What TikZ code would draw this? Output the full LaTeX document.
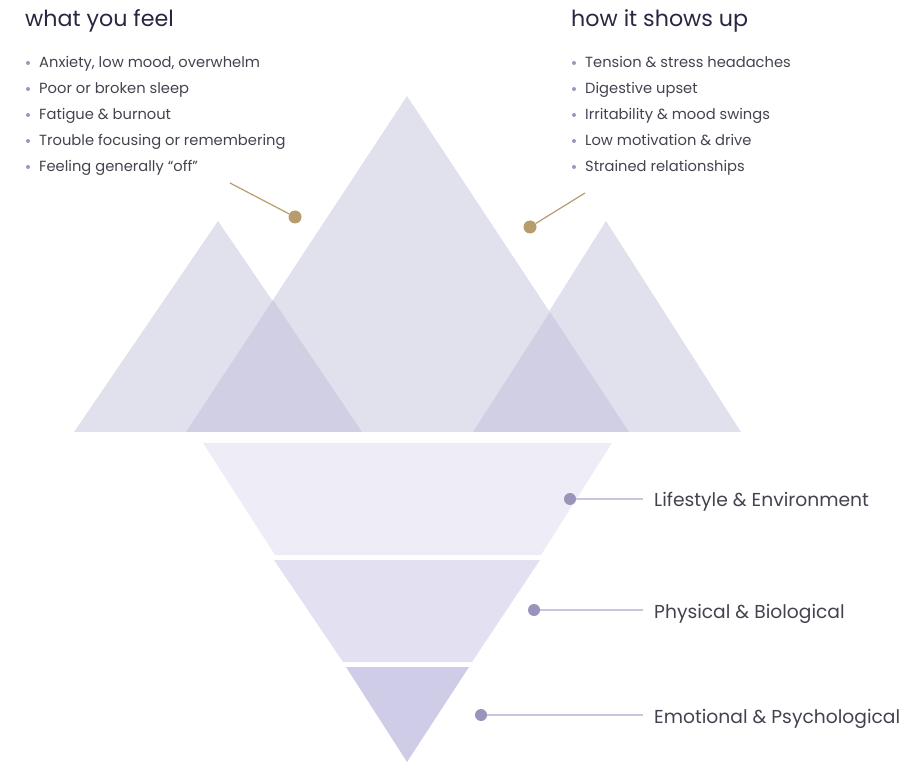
\documentclass[tikz,border=0pt]{standalone}
\usepackage{fontspec}
\setmainfont{Poppins}
\definecolor{mtn}{HTML}{E1E1EE}
\definecolor{mtndark}{HTML}{D1CFE3}
\definecolor{bandA}{HTML}{EEEDF7}
\definecolor{bandB}{HTML}{E2E0F1}
\definecolor{bandC}{HTML}{CFCCE7}
\definecolor{headc}{HTML}{2A2540}
\definecolor{textc}{HTML}{45424F}
\definecolor{bulc}{HTML}{9D95BC}
\definecolor{goldc}{HTML}{B89C6E}
\definecolor{purdot}{HTML}{9A93BA}
\definecolor{purline}{HTML}{C9C5E0}
\begin{document}
\begin{tikzpicture}[x=1pt,y=-1pt,
  heading/.style={anchor=base west,inner sep=0pt,text=headc,font=\fontsize{22.2}{26}\selectfont},
  item/.style={anchor=base west,inner sep=0pt,text=textc,font=\fontsize{14.7}{18}\selectfont},
  bul/.style={circle,fill=bulc,inner sep=0pt,minimum size=4pt},
  label/.style={anchor=base west,inner sep=0pt,text=textc,font=\fontsize{18.7}{22}\selectfont},
  gdot/.style={circle,fill=goldc,inner sep=0pt,minimum size=13pt},
  pdot/.style={circle,fill=purdot,inner sep=0pt,minimum size=12pt},
  gline/.style={draw=goldc,line width=1.2pt},
  pline/.style={draw=purline,line width=1.2pt}]
\useasboundingbox (0,0) rectangle (900,775);
% mountains
\fill[mtn] (74,432) -- (218,221) -- (362,432) -- cycle;
\fill[mtn] (473,432) -- (606,221) -- (741,432) -- cycle;
\fill[mtn] (186,432) -- (407,96) -- (629,432) -- cycle;
\fill[mtndark] (186,432) -- (273,300) -- (362,432) -- cycle;
\fill[mtndark] (473,432) -- (550,312) -- (629,432) -- cycle;
% inverted pyramid
\fill[bandA] (203,443) -- (612,443) -- (541,555) -- (275,555) -- cycle;
\fill[bandB] (274,560) -- (540,560) -- (472,662) -- (343,662) -- cycle;
\fill[bandC] (346,667) -- (469,667) -- (407,762) -- cycle;
% headings
\node[heading] (h1) at (25,27) {what you feel};
\node[heading] (h2) at (571,27) {how it shows up};
% left list
\foreach \t [count=\i] in {{Anxiety, low mood, overwhelm},{Poor or broken sleep},{Fatigue \& burnout},{Trouble focusing or remembering},{Feeling generally “off”}}{
  \node[item] (l\i) at (39,{68+26*(\i-1)}) {\t};
  \node[bul] (lb\i) at (28,{63+26*(\i-1)}) {};
}
% right list
\foreach \t [count=\i] in {{Tension \& stress headaches},{Digestive upset},{Irritability \& mood swings},{Low motivation \& drive},{Strained relationships}}{
  \node[item] (r\i) at (585,{68+26*(\i-1)}) {\t};
  \node[bul] (rb\i) at (574,{63+26*(\i-1)}) {};
}
% gold pointers
\coordinate (ga) at (230,183);
\coordinate (gb) at (585,193);
\node[gdot] (g1) at (295,217) {};
\node[gdot] (g2) at (530,227) {};
\draw[gline] (ga) -- (g1);
\draw[gline] (gb) -- (g2);
% layer labels
\node[label] (t1) at (654,507) {Lifestyle \& Environment};
\node[label] (t2) at (654,618) {Physical \& Biological};
\node[label] (t3) at (654,723) {Emotional \& Psychological};
\coordinate (e1) at (643,499);
\coordinate (e2) at (643,610);
\coordinate (e3) at (643,715);
\node[pdot] (d1) at (570,499) {};
\node[pdot] (d2) at (534,610) {};
\node[pdot] (d3) at (481,715) {};
\draw[pline] (d1) -- (e1);
\draw[pline] (d2) -- (e2);
\draw[pline] (d3) -- (e3);
\end{tikzpicture}
\end{document}
